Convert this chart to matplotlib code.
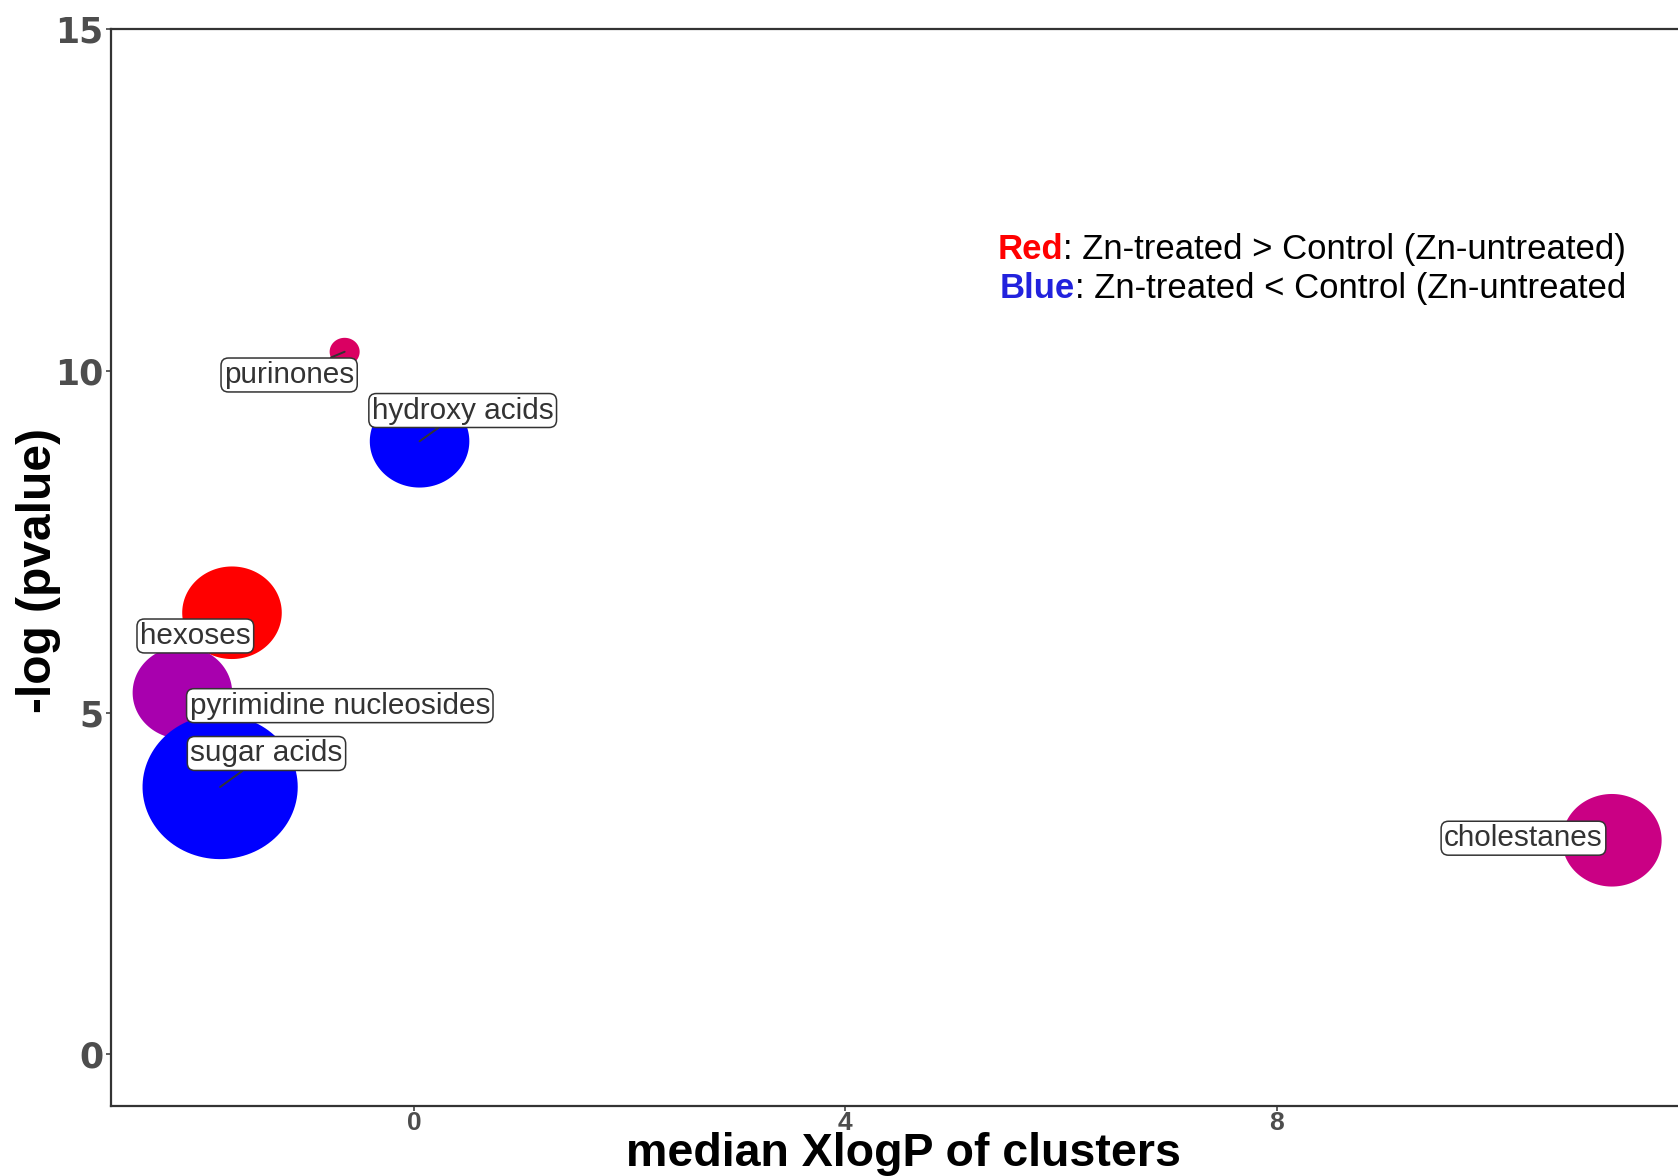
import numpy as np
import matplotlib.pyplot as plt
from matplotlib.path import Path
from matplotlib.markers import MarkerStyle

# 数据：每个聚类的 median XlogP、-log(p) 和化合物个数
clusters = ['purinones', 'hydroxy acids', 'hexoses', 'pyrimidine nucleosides',
            'sugar acids', 'cholestanes']
xlogp = [-0.645, 0.05, -1.69, -2.15, -1.80, 11.11]
neglogp = [10.28, 8.97, 6.46, 5.29, 3.91, 3.13]
n_compounds = [1, 6, 6, 6, 10, 6]
colors = ['#DA0062', '#0000FF', '#FF0000', '#A800AE', '#0000FF', '#CA0084']

# 标签位置（ggrepel 推开后的位置）
label_x = [-1.16, 0.45, -2.03, -0.69, -1.37, 10.29]
label_y = [9.94, 9.42, 6.12, 5.10, 4.40, 3.16]
show_segment = [True, True, False, False, True, False]

x_ticks = [0, 4, 8]
y_ticks = [0, 5, 10, 15]

DPI = 100
fig = plt.figure(figsize=(16.78, 11.76), dpi=DPI)
ax = fig.add_axes([0.0663, 0.0599, 0.9444, 0.9152])
ax.set_xlim(-2.81, 11.89)
ax.set_ylim(-0.753, 15)

# 气泡大小：化合物数 -> 半径（像素）
r_min, r_max = 15, 77.6
n = np.array(n_compounds, dtype=float)
radius_px = r_min + (n - n.min()) / (n.max() - n.min()) * (r_max - r_min)
diam_pt = 2 * radius_px * 72 / DPI

# 稍微压扁的圆
theta = np.linspace(0, 2 * np.pi, 120)
verts = np.column_stack([np.cos(theta), 0.93 * np.sin(theta)])
oval = MarkerStyle(Path(verts, closed=True))

ax.scatter(xlogp, neglogp, s=diam_pt ** 2, c=colors, marker=oval,
           linewidths=0, zorder=2)

for i, name in enumerate(clusters):
    arrow = None
    if show_segment[i]:
        arrow = dict(arrowstyle='-', color='#333333', lw=1.4,
                     shrinkA=0, shrinkB=0)
    ax.annotate(name, xy=(xlogp[i], neglogp[i]),
                xytext=(label_x[i], label_y[i]), textcoords='data',
                ha='center', va='center', fontsize=21.4, color='#333333',
                family='Liberation Sans', zorder=4,
                bbox=dict(boxstyle='round,pad=0.1,rounding_size=0.25',
                          fc='white', ec='#333333', lw=1.1),
                arrowprops=arrow)

# 说明文字
t1 = ax.text(5.41, 11.64, 'Red', color='#FF0000', fontweight='bold',
             fontsize=25, family='Liberation Sans', va='baseline')
ax.annotate(': Zn-treated > Control (Zn-untreated)', xy=(1, 0), xycoords=t1,
            ha='left', va='bottom', fontsize=25, family='Liberation Sans',
            color='black')
t2 = ax.text(5.43, 11.07, 'Blue', color='#2222DD', fontweight='bold',
             fontsize=25, family='Liberation Sans', va='baseline')
ax.annotate(': Zn-treated < Control (Zn-untreated', xy=(1, 0), xycoords=t2,
            ha='left', va='bottom', fontsize=25, family='Liberation Sans',
            color='black')

# 坐标轴
ax.set_xticks(x_ticks)
ax.set_xticklabels([str(v) for v in x_ticks], fontsize=19, fontweight='bold',
                   family='Liberation Sans', color='#4D4D4D')
ax.set_yticks(y_ticks)
ax.set_yticklabels([str(v) for v in y_ticks], fontsize=25, fontweight='bold',
                   family='DejaVu Sans', color='#4D4D4D')
ax.tick_params(axis='both', length=3.6, width=1.1, color='#333333', pad=2)
ax.tick_params(axis='x', pad=0.5)

for side in ['left', 'bottom', 'top', 'right']:
    ax.spines[side].set_color('#333333')
    ax.spines[side].set_linewidth(1.6)

ax.set_xlabel('median XlogP of clusters', fontsize=33.5, fontweight='bold',
              family='Liberation Sans', color='black')
ax.xaxis.label.set_va('baseline')
ax.xaxis.set_label_coords(0.5, -0.0565)

ax.set_ylabel('-log (pvalue)', fontsize=34.5, fontweight='bold',
              family='Liberation Sans', color='black')
ax.yaxis.label.set_va('center')
ax.yaxis.set_label_coords(-0.0457, 0.497)

fig.savefig('out.png', dpi=DPI)
